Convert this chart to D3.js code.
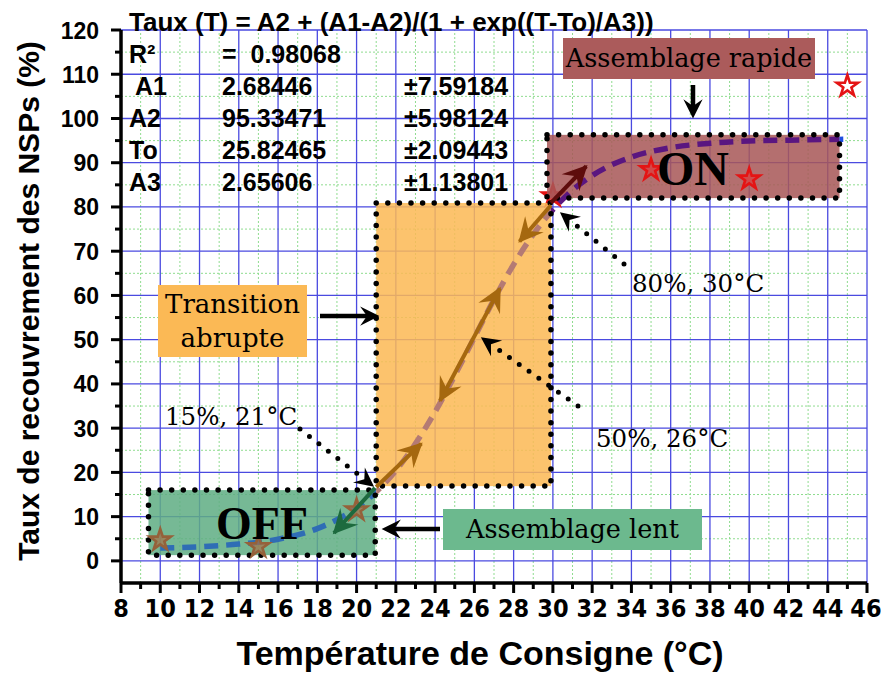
<!DOCTYPE html>
<html><head><meta charset="utf-8">
<script src="https://cdn.jsdelivr.net/npm/d3@7"></script>
<style>
html,body{margin:0;padding:0;background:#fff;}
svg{display:block;}
</style></head>
<body>
<svg id="chart" width="881" height="673"></svg>
<script>
// ---- data ----
const curveT = [10, 12, 14, 16, 18, 19, 20, 21, 22, 23, 24, 25, 26, 27, 28, 29, 30, 31, 32, 34, 36, 38, 40, 42, 45];
const curveY = [2.9, 3.2, 3.8, 4.9, 7.3, 9.3, 12.0, 15.6, 20.4, 26.5, 33.7, 41.9, 50.5, 59.1, 67.0, 73.8, 79.4, 83.8, 87.1, 91.3, 93.4, 94.4, 94.9, 95.1, 95.3];
const sampleT = [10, 15, 20, 30, 35, 40, 45];
const sampleY = [4.7, 3.2, 11.5, 82.5, 88.4, 86.3, 107.3];
const xTicks = [8, 10, 12, 14, 16, 18, 20, 22, 24, 26, 28, 30, 32, 34, 36, 38, 40, 42, 44, 46];
const yTicks = [0, 10, 20, 30, 40, 50, 60, 70, 80, 90, 100, 110, 120];
const fitLines = ["Taux (T) = A2 + (A1-A2)/(1 + exp((T-To)/A3))"];
const paramNames = ["R²", " A1", "A2", "To", "A3"];
const paramValues = ["=  0.98068", "2.68446", "95.33471", "25.82465", "2.65606"];
const paramErrors = ["", "±7.59184", "±5.98124", "±2.09443", "±1.13801"];
const xTitle = "Température de Consigne (°C)";
const yTitle = "Taux de recouvrement des NSPs (%)";
// regions [x0, x1, y0, y1] in data units
const regionOff = [9.4, 20.95, 1.3, 16.0];
const regionTrans = [21.0, 29.9, 16.9, 80.9];
const regionOn = [29.7, 44.6, 82.0, 96.3];
const pointLabels = ["80%, 30°C", "50%, 26°C", "15%, 21°C"];

// ---- drawing ----
const svg = d3.select("#chart");
const x = d3.scaleLinear().domain([8, 46]).range([121, 867]);
const y = d3.scaleLinear().domain([-5, 120]).range([583, 30]);

const defs = svg.append("defs");
function marker(id, color, size) {
  defs.append("marker").attr("id", id).attr("viewBox", "-14 -8 16 16")
    .attr("refX", 0).attr("refY", 0).attr("markerUnits", "userSpaceOnUse")
    .attr("markerWidth", size).attr("markerHeight", size).attr("orient", "auto-start-reverse")
    .append("path").attr("d", "M1,0 L-13,-7 L-8,0 L-13,7 Z").attr("fill", color);
}
marker("mBlack", "#000", 22);
marker("mBrown", "#a5680f", 28);
marker("mGreen", "#1d6a3e", 28);
marker("mMaroon", "#5e0c0c", 28);
marker("mBlackS", "#000", 22);

// grid
const g = svg.append("g");
g.selectAll(".vmin").data(d3.range(9, 46, 2)).join("line")
  .attr("x1", d => x(d)).attr("x2", d => x(d)).attr("y1", y(-5)).attr("y2", y(120))
  .attr("stroke", "#8fdc8f").attr("stroke-width", 1).attr("stroke-dasharray", "2,2");
g.selectAll(".hmin").data(d3.range(5, 120, 10)).join("line")
  .attr("y1", d => y(d)).attr("y2", d => y(d)).attr("x1", x(8)).attr("x2", x(46))
  .attr("stroke", "#8fdc8f").attr("stroke-width", 1).attr("stroke-dasharray", "2,2");
g.selectAll(".vmaj").data(xTicks.slice(1)).join("line")
  .attr("x1", d => x(d)).attr("x2", d => x(d)).attr("y1", y(-5)).attr("y2", y(120))
  .attr("stroke", "#4a4ae0").attr("stroke-width", 1.3);
g.selectAll(".hmaj").data(yTicks).join("line")
  .attr("y1", d => y(d)).attr("y2", d => y(d)).attr("x1", x(8)).attr("x2", x(46))
  .attr("stroke", "#4a4ae0").attr("stroke-width", 1.3);

const star = d3.symbol().type(d3.symbolStar).size(140);
function drawStar(i) {
  const t = sampleT[i];
  const off = t < 21;
  svg.append("path").attr("d", star)
    .attr("transform", `translate(${x(t)},${y(sampleY[i])})`)
    .attr("fill", off ? "#a57048" : (t > 44.6 ? "#ffffff" : "#d24a4a"))
    .attr("fill-opacity", off ? 0.7 : 1)
    .attr("stroke", off ? "#95613a" : "#e41414").attr("stroke-width", 2.6);
}
// point hidden at the corner of the boxes
sampleT.forEach((t, i) => { if (t >= 29 && t <= 31) drawStar(i); });

// region boxes
function rectOf(r) { return {x: x(r[0]), y: y(r[3]), w: x(r[1]) - x(r[0]), h: y(r[2]) - y(r[3])}; }
const regs = [
  {r: regionOff, fill: "#5fae84"},
  {r: regionTrans, fill: "#fbb955"},
  {r: regionOn, fill: "#a85757"}
];
regs.forEach(o => {
  const b = rectOf(o.r);
  svg.append("rect").attr("x", b.x).attr("y", b.y).attr("width", b.w).attr("height", b.h)
    .attr("fill", o.fill).attr("fill-opacity", 0.86);
});

// fit curve, coloured by region
const curveData = curveT.map((t, i) => [t, curveY[i]]);
const line = d3.line().x(d => x(d[0])).y(d => y(d[1])).curve(d3.curveMonotoneX);
const segs = [
  {a: 8, b: 21, c: "#2f6db5"},
  {a: 21, b: 29.9, c: "#b47a74"},
  {a: 29.9, b: 44.6, c: "#5a1680"},
  {a: 44.6, b: 47, c: "#1f4fe0"}
];
segs.forEach((s, i) => {
  defs.append("clipPath").attr("id", "cp" + i).append("rect")
    .attr("x", x(s.a)).attr("y", 0).attr("width", x(s.b) - x(s.a)).attr("height", 673);
  svg.append("path").datum(curveData).attr("d", line).attr("fill", "none")
    .attr("stroke", s.c).attr("stroke-width", 5.5).attr("stroke-dasharray", "14,8")
    .attr("clip-path", "url(#cp" + i + ")");
});

// dotted borders
regs.forEach(o => {
  const b = rectOf(o.r);
  svg.append("rect").attr("x", b.x).attr("y", b.y).attr("width", b.w).attr("height", b.h)
    .attr("fill", "none").attr("stroke", "#000").attr("stroke-width", 5.5)
    .attr("stroke-linecap", "round").attr("stroke-dasharray", "0,11.6");
});

// remaining data stars
sampleT.forEach((t, i) => { if (!(t >= 29 && t <= 31)) drawStar(i); });

// arrows along the curve
function arrow(p0, p1, color, m, both, w) {
  const path = svg.append("line").attr("x1", x(p0[0])).attr("y1", y(p0[1]))
    .attr("x2", x(p1[0])).attr("y2", y(p1[1])).attr("stroke", color).attr("stroke-width", w || 4)
    .attr("marker-end", `url(#${m})`);
  if (both) path.attr("marker-start", `url(#${m})`);
}
arrow([20.94, 16.5], [18.85, 6.3], "#1d6a3e", "mGreen");
arrow([21.0, 16.7], [23.3, 26.5], "#a5680f", "mBrown");
arrow([24.25, 36.2], [27.3, 61.6], "#a5680f", "mBrown", true);
arrow([29.9, 80.4], [28.3, 72.2], "#a5680f", "mBrown");
arrow([29.9, 80.9], [31.7, 89.2], "#5e0c0c", "mMaroon");

// dotted annotation arrows
function dotArrow(x1, y1, x2, y2) {
  const dx = x2 - x1, dy = y2 - y1, L = Math.hypot(dx, dy);
  svg.append("line").attr("x1", x1).attr("y1", y1).attr("x2", x2 - dx / L * 10).attr("y2", y2 - dy / L * 10)
    .attr("stroke", "#000").attr("stroke-width", 5).attr("stroke-linecap", "round")
    .attr("stroke-dasharray", "0,12");
  svg.append("line").attr("x1", x2 - dx / L * 12).attr("y1", y2 - dy / L * 12).attr("x2", x2).attr("y2", y2)
    .attr("stroke", "none").attr("marker-end", "url(#mBlackS)");
}
dotArrow(624, 264, 561, 213);
dotArrow(578, 406, 482, 338);
dotArrow(300, 429, 373, 486);

// axes
const ax = svg.append("g");
ax.append("line").attr("x1", x(8)).attr("x2", x(46)).attr("y1", y(-5)).attr("y2", y(-5)).attr("stroke", "#000").attr("stroke-width", 3.5);
ax.append("line").attr("x1", x(8)).attr("x2", x(8)).attr("y1", y(-5)).attr("y2", y(120)).attr("stroke", "#000").attr("stroke-width", 3.5);
ax.selectAll(".xt").data(d3.range(8, 47, 1)).join("line")
  .attr("x1", d => x(d)).attr("x2", d => x(d)).attr("y1", y(-5)).attr("y2", d => y(-5) + (d % 2 === 0 ? 10 : 6))
  .attr("stroke", "#000").attr("stroke-width", 3);
ax.selectAll(".yt").data(d3.range(0, 121, 5)).join("line")
  .attr("y1", d => y(d)).attr("y2", d => y(d)).attr("x1", x(8)).attr("x2", d => x(8) - (d % 10 === 0 ? 10 : 6))
  .attr("stroke", "#000").attr("stroke-width", 3);
ax.selectAll(".xl").data(xTicks).join("text")
  .attr("x", d => Math.min(x(d), 866)).attr("y", 617).attr("text-anchor", "middle")
  .attr("font-family", "'Liberation Sans Narrow', 'Arial Narrow', 'DejaVu Sans Condensed', sans-serif")
  .attr("font-weight", "bold").attr("font-size", 25).text(d => d);
ax.selectAll(".yl").data(yTicks).join("text")
  .attr("x", 99).attr("y", d => y(d) + 8.5).attr("text-anchor", "end")
  .attr("font-family", "'Liberation Sans', Arial, sans-serif")
  .attr("font-weight", "bold").attr("font-size", 23).text(d => d);
svg.append("text").attr("x", 480).attr("y", 665).attr("text-anchor", "middle")
  .attr("font-family", "'Liberation Sans', Arial, sans-serif").attr("font-weight", "bold")
  .attr("font-size", 34).text(xTitle);
svg.append("text").attr("transform", "translate(39,301) rotate(-90)").attr("text-anchor", "middle")
  .attr("font-family", "'Liberation Sans', Arial, sans-serif").attr("font-weight", "bold")
  .attr("font-size", 30).text(yTitle);

// fit parameters
const sans = "'Liberation Sans', Arial, sans-serif";
svg.append("text").attr("x", 129).attr("y", 31).attr("font-family", sans).attr("font-weight", "bold")
  .attr("font-size", 26).text(fitLines[0]);
paramNames.forEach((n, i) => {
  const by = 63 + i * 32;
  svg.append("text").attr("x", 129).attr("y", by).attr("font-family", sans).attr("font-weight", "bold")
    .attr("font-size", 25).style("white-space", "pre").text(n);
  svg.append("text").attr("x", 222).attr("y", by).attr("font-family", sans).attr("font-weight", "bold")
    .attr("font-size", 25).style("white-space", "pre").text(paramValues[i]);
  svg.append("text").attr("x", 404).attr("y", by).attr("font-family", sans).attr("font-weight", "bold")
    .attr("font-size", 25).text(paramErrors[i]);
});

// label boxes
const serif = "'DejaVu Serif', Georgia, serif";
function labelBox(bx, by, bw, bh, fill, lines, size, lh) {
  svg.append("rect").attr("x", bx).attr("y", by).attr("width", bw).attr("height", bh).attr("fill", fill);
  lines.forEach((t, i) => {
    svg.append("text").attr("x", bx + bw / 2).attr("y", by + bh / 2 + size * 0.35 - (lines.length - 1) * lh / 2 + i * lh)
      .attr("text-anchor", "middle").attr("font-family", serif).attr("font-size", size).text(t);
  });
}
labelBox(563, 38, 252, 41, "#ab5b5b", ["Assemblage rapide"], 25.5, 0);
labelBox(158, 285, 149, 72, "#fbb955", ["Transition", "abrupte"], 26, 34);
labelBox(443, 509, 259, 41, "#6cb98e", ["Assemblage lent"], 25.5, 0);

// black arrows
function blackArrow(x1, y1, x2, y2) {
  svg.append("line").attr("x1", x1).attr("y1", y1).attr("x2", x2 - Math.sign(x2 - x1) * 6).attr("y2", y2 - Math.sign(y2 - y1) * 6)
    .attr("stroke", "#000").attr("stroke-width", 4.5);
  svg.append("line").attr("x1", x2 - Math.sign(x2 - x1) * 8).attr("y1", y2 - Math.sign(y2 - y1) * 8).attr("x2", x2).attr("y2", y2)
    .attr("stroke", "none").attr("marker-end", "url(#mBlack)");
}
blackArrow(693, 85, 693, 117);
blackArrow(320, 316, 378, 316);
blackArrow(440, 529, 383, 529);

// ON / OFF
svg.append("text").attr("x", 693).attr("y", 185).attr("text-anchor", "middle")
  .attr("font-family", "'Liberation Serif', 'Times New Roman', serif").attr("font-weight", "bold")
  .attr("font-size", 48).text("ON");
svg.append("text").attr("x", 262).attr("y", 539).attr("text-anchor", "middle")
  .attr("font-family", "'Liberation Serif', 'Times New Roman', serif").attr("font-weight", "bold")
  .attr("font-size", 46).text("OFF");

// point annotations
const annPos = [[632, 292], [596, 447], [165, 425]];
pointLabels.forEach((t, i) => {
  svg.append("text").attr("x", annPos[i][0]).attr("y", annPos[i][1]).attr("font-family", serif)
    .attr("font-size", 24.5).text(t);
});
</script>
</body></html>
